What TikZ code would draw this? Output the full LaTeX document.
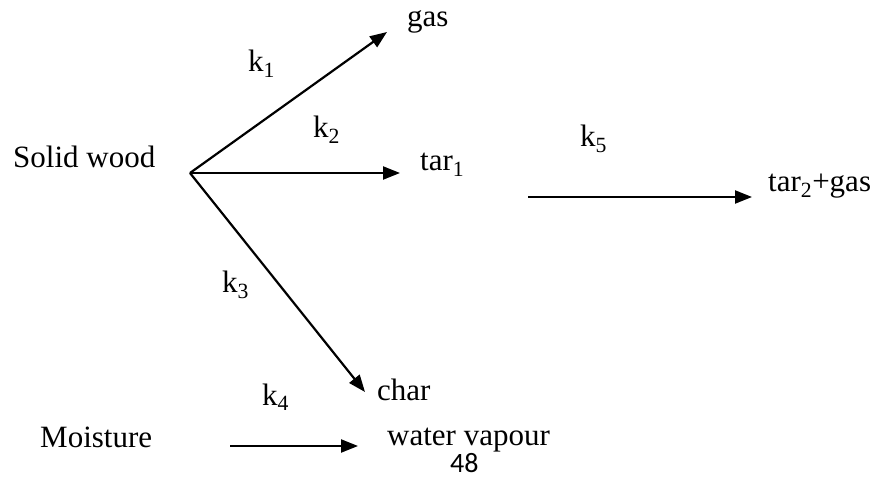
\documentclass[tikz,border=0pt]{standalone}
\usepackage{fontspec}
\setmainfont{Liberation Serif}
\newfontfamily\pagefont{Carlito}
\usetikzlibrary{arrows.meta}
\begin{document}
\begin{tikzpicture}[x=1pt,y=-1pt,
  lbl/.style={anchor=base west,inner sep=0pt,font=\fontsize{31}{37}\selectfont},
  arr/.style={line width=2.2pt,-{Triangle[length=17pt,width=13pt]}}]
\useasboundingbox (0,0) rectangle (878,478);
% nodes
\node[lbl] (wood) at (13,168) {Solid wood};
\node[lbl] (gas) at (407,27) {gas};
\node[lbl] (tar1) at (420,171) {tar\textsubscript{1}};
\node[lbl] (char) at (377,400) {char};
\node[lbl] (tar2) at (768,192) {tar\textsubscript{2}+gas};
\node[lbl] (moist) at (40,447) {Moisture};
\node[lbl] (water) at (387,445) {water vapour};
\node[anchor=base west,inner sep=0pt,font=\pagefont\fontsize{28}{34}\selectfont] (page) at (450,472) {48};
\node[lbl] (k1) at (248,72) {k\textsubscript{1}};
\node[lbl] (k2) at (313,138) {k\textsubscript{2}};
\node[lbl] (k3) at (222,293) {k\textsubscript{3}};
\node[lbl] (k5) at (580,147) {k\textsubscript{5}};
\node[lbl] (k4) at (262,405) {k\textsubscript{4}};
% connector points
\coordinate (fork) at (190,173);
\coordinate (gasend) at (387,32);
\coordinate (tarend) at (400,173);
\coordinate (charend) at (365,392);
\coordinate (k5start) at (528,197);
\coordinate (k5end) at (752,197);
\coordinate (k4start) at (230,446);
\coordinate (k4end) at (358,446);
% connectors
\draw[arr] (fork) -- (gasend);
\draw[arr] (fork) -- (tarend);
\draw[arr] (fork) -- (charend);
\draw[arr] (k5start) -- (k5end);
\draw[arr] (k4start) -- (k4end);
\end{tikzpicture}
\end{document}
